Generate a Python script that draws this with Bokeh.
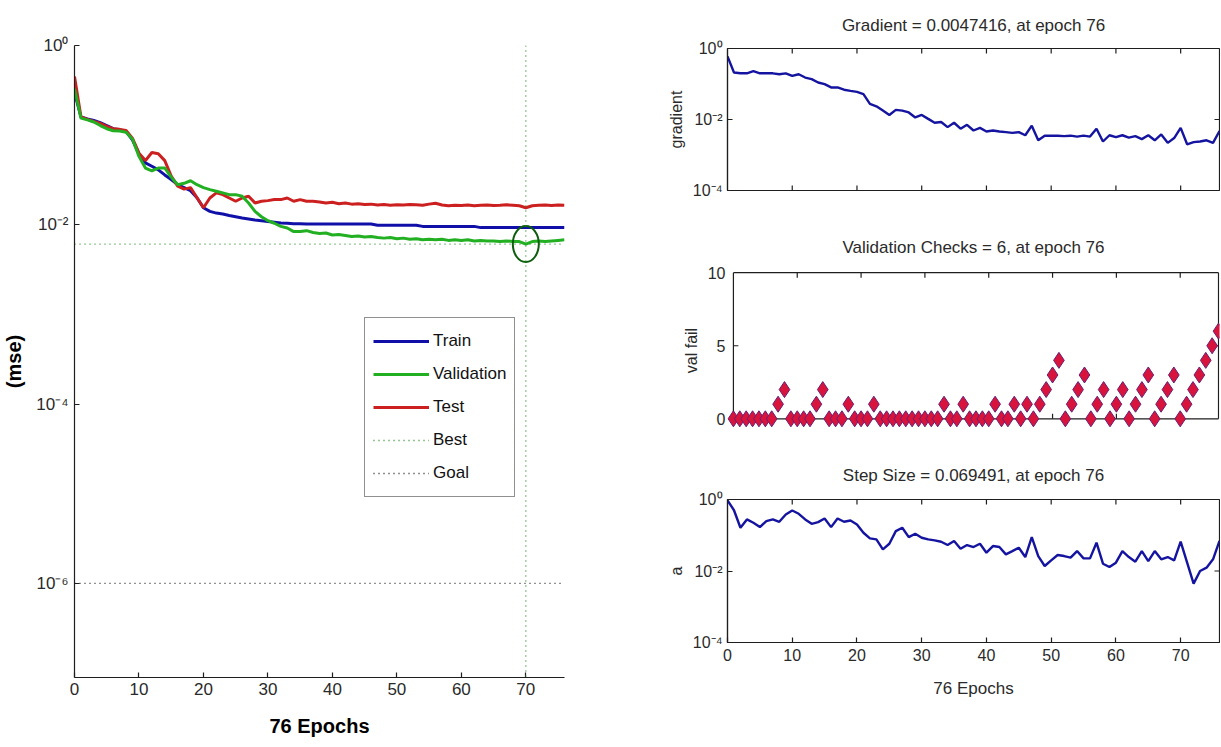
from bokeh.plotting import figure
from bokeh.models import Range1d, FixedTicker, CustomJSTickFormatter, Legend, LegendItem, Span, Title
from bokeh.layouts import row, column
from bokeh.embed import file_html
from bokeh.resources import INLINE

# ---------------- data ----------------
epochs = list(range(77))

train_perf = [0.30, 0.160, 0.152, 0.146, 0.138, 0.128, 0.118, 0.115, 0.110, 0.088,
              0.062, 0.049, 0.045, 0.041, 0.036, 0.032, 0.028, 0.026, 0.024, 0.020,
              0.0155, 0.0141, 0.0135, 0.0132, 0.0127, 0.0123, 0.0119, 0.0116, 0.0113, 0.0111,
              0.0109, 0.0107, 0.0105, 0.0104, 0.0103, 0.0103, 0.0102, 0.0102, 0.0102, 0.0102,
              0.0102, 0.0102, 0.0102, 0.0102, 0.0102, 0.0102, 0.0102, 0.0099, 0.0099, 0.0099,
              0.0099, 0.0099, 0.0099, 0.0099, 0.0096, 0.0096, 0.0096, 0.0096, 0.0096, 0.0096,
              0.0096, 0.0096, 0.0096, 0.0093, 0.0093, 0.0093, 0.0093, 0.0093, 0.0093, 0.0093,
              0.0093, 0.0093, 0.0093, 0.0093, 0.0093, 0.0093, 0.0093]
val_perf = [0.33, 0.155, 0.148, 0.140, 0.128, 0.118, 0.112, 0.111, 0.108, 0.090,
            0.058, 0.043, 0.040, 0.043, 0.043, 0.034, 0.028, 0.029, 0.031, 0.028,
            0.026, 0.0247, 0.0237, 0.0227, 0.0217, 0.0217, 0.0208, 0.0175, 0.0141, 0.0123,
            0.0111, 0.0104, 0.0096, 0.0092, 0.0084, 0.0084, 0.0086, 0.0082, 0.0080, 0.0081,
            0.0077, 0.0078, 0.0076, 0.0074, 0.0075, 0.0073, 0.0074, 0.0072, 0.0071, 0.0072,
            0.0070, 0.0071, 0.0069, 0.0070, 0.0068, 0.0069, 0.0068, 0.0069, 0.0067, 0.0068,
            0.0067, 0.0068, 0.0066, 0.0067, 0.0066, 0.0066, 0.0065, 0.0066, 0.0065, 0.0065,
            0.0061, 0.0065, 0.0066, 0.0065, 0.0066, 0.0067, 0.0068]
test_perf = [0.45, 0.160, 0.150, 0.142, 0.135, 0.125, 0.118, 0.116, 0.113, 0.092,
             0.063, 0.052, 0.064, 0.062, 0.052, 0.035, 0.027, 0.025, 0.026, 0.020,
             0.0155, 0.0199, 0.0227, 0.0217, 0.0199, 0.0183, 0.0199, 0.0208, 0.0175, 0.0183,
             0.0186, 0.0191, 0.0191, 0.0199, 0.0183, 0.0191, 0.0183, 0.0183, 0.0180, 0.0175,
             0.0178, 0.0172, 0.0175, 0.0170, 0.0172, 0.0168, 0.0170, 0.0166, 0.0168, 0.0165,
             0.0167, 0.0166, 0.0168, 0.0167, 0.0165, 0.0170, 0.0174, 0.0166, 0.0163, 0.0165,
             0.0164, 0.0166, 0.0163, 0.0165, 0.0166, 0.0164, 0.0165, 0.0167, 0.0165, 0.0163,
             0.0155, 0.0163, 0.0165, 0.0166, 0.0164, 0.0166, 0.0165]
best_epoch = 70
best_perf = 0.0061
goal_perf = 1e-6

gradient = [0.60, 0.21, 0.20, 0.20, 0.23, 0.20, 0.20, 0.20, 0.188, 0.20,
            0.169, 0.188, 0.152, 0.137, 0.110, 0.099, 0.080, 0.080, 0.069, 0.064,
            0.060, 0.052, 0.0275, 0.0236, 0.0178, 0.0134, 0.0187, 0.0178, 0.0158, 0.0114,
            0.0134, 0.0104, 0.0081, 0.0085, 0.0061, 0.0081, 0.0055, 0.0071, 0.0049, 0.0058,
            0.0046, 0.0049, 0.0046, 0.0044, 0.0042, 0.0044, 0.0036, 0.0067, 0.0026, 0.0035,
            0.0035, 0.0035, 0.0034, 0.0035, 0.0033, 0.0035, 0.0033, 0.0055, 0.0024, 0.0036,
            0.0032, 0.0036, 0.0031, 0.0034, 0.0028, 0.0036, 0.0026, 0.0038, 0.0022, 0.0030,
            0.0058, 0.0020, 0.0023, 0.0024, 0.0026, 0.0022, 0.0047416]
val_fail = [0, 0, 0, 0, 0, 0, 0, 1, 2, 0,
            0, 0, 0, 1, 2, 0, 0, 0, 1, 0,
            0, 0, 1, 0, 0, 0, 0, 0, 0, 0,
            0, 0, 0, 1, 0, 0, 1, 0, 0, 0,
            0, 1, 0, 0, 1, 0, 1, 0, 1, 2,
            3, 4, 0, 1, 2, 3, 0, 1, 2, 0,
            1, 2, 0, 1, 2, 3, 0, 1, 2, 3,
            0, 1, 2, 3, 4, 5, 6]
step_size = [0.95, 0.50, 0.162, 0.277, 0.223, 0.169, 0.249, 0.277, 0.238, 0.381,
             0.493, 0.398, 0.277, 0.209, 0.233, 0.295, 0.169, 0.295, 0.238, 0.259,
             0.201, 0.1175, 0.0816, 0.0766, 0.0403, 0.0579, 0.1306, 0.162, 0.0889, 0.110,
             0.0851, 0.0766, 0.0718, 0.0659, 0.0532, 0.0687, 0.0420, 0.0532, 0.0468, 0.0579,
             0.0325, 0.0499, 0.0468, 0.0292, 0.0361, 0.0448, 0.0246, 0.0889, 0.0262, 0.0138,
             0.0199, 0.0280, 0.0262, 0.0236, 0.0361, 0.0226, 0.0226, 0.0618, 0.0160, 0.0129,
             0.0171, 0.0361, 0.0246, 0.0182, 0.0361, 0.0190, 0.0361, 0.0212, 0.0246, 0.0199,
             0.0659, 0.0171, 0.00443, 0.0100, 0.0124, 0.0212, 0.069491]

x_ticks = [0, 10, 20, 30, 40, 50, 60, 70]
inner_x_ticks = [10, 20, 30, 40, 50, 60, 70]
perf_ticks = [1e-6, 1e-4, 1e-2, 1.0]
log_ticks = [1e-4, 1e-2, 1.0]
fail_ticks = [0, 5, 10]
legend_labels = ["Train", "Validation", "Test", "Best", "Goal"]
title_grad = "Gradient = 0.0047416, at epoch 76"
title_fail = "Validation Checks = 6, at epoch 76"
title_step = "Step Size = 0.069491, at epoch 76"
xlabel = "76 Epochs"

# ---------------- style ----------------
FONT = "Liberation Sans"
AX = "#1e1e1e"
TXT = "#2a2a2a"
C_TRAIN = "#1010a8"
C_VAL = "#22b022"
C_TEST = "#cc2020"
C_BEST = "#2d8f2d"
C_LINE = "#1414a0"
TICK = 5  # tick length, px

POW = CustomJSTickFormatter(code="""
const e = Math.round(Math.log10(tick));
const m = {"0":"\u2070","1":"\u00b9","2":"\u00b2","3":"\u00b3","4":"\u2074","5":"\u2075",
           "6":"\u2076","7":"\u2077","8":"\u2078","9":"\u2079","-":"\u207b"};
let s = "";
for (const c of String(e)) { s += m[c]; }
return "10" + s;
""")


def style_axis(ax, ticks, size, fmt=None, tick_in=TICK, standoff=5):
    ax.ticker = FixedTicker(ticks=ticks)
    ax.major_tick_in = tick_in
    ax.major_tick_out = 0
    ax.minor_tick_line_color = None
    ax.major_tick_line_color = AX
    ax.major_tick_line_width = 1.2
    ax.axis_line_color = AX
    ax.axis_line_width = 1.2
    if fmt is not None:
        ax.formatter = fmt
    ax.major_label_text_font = FONT
    ax.major_label_text_color = TXT
    ax.major_label_text_font_size = size
    ax.major_label_standoff = standoff
    ax.axis_label_text_font = FONT
    ax.axis_label_text_font_style = "normal"
    ax.axis_label_text_color = TXT


def base_fig(width, height, xr, yr, ytype, bl, br, bt, bb):
    p = figure(width=width, height=height, x_range=xr, y_range=yr, y_axis_type=ytype,
               output_backend="svg", toolbar_location=None, title=None,
               min_border_left=bl, min_border_right=br, min_border_top=bt, min_border_bottom=bb)
    p.xgrid.visible = False
    p.ygrid.visible = False
    p.background_fill_color = "white"
    p.border_fill_color = "white"
    return p


def add_title(p, text, standoff):
    p.add_layout(Title(text=text, align="center", text_font=FONT, text_font_size="17px",
                       text_font_style="normal", text_color=TXT, standoff=standoff), "above")


# ---------------- left: performance ----------------
L = base_fig(600, 745, Range1d(0, 76), Range1d(10 ** -7.05, 1.0), "log", 73, 36, 45, 68)
L.outline_line_color = None
style_axis(L.xaxis[0], x_ticks, "17px")
style_axis(L.yaxis[0], perf_ticks, "17px", fmt=POW, standoff=6)
L.xaxis.axis_label = xlabel
L.xaxis.axis_label_text_font_size = "20px"
L.xaxis.axis_label_text_font_style = "bold"
L.xaxis.axis_label_text_color = "black"
L.xaxis.axis_label_standoff = 17
L.yaxis.axis_label = "(mse)"
L.yaxis.axis_label_text_font_size = "20px"
L.yaxis.axis_label_text_font_style = "bold"
L.yaxis.axis_label_text_color = "black"
L.yaxis.axis_label_standoff = 8

L.add_layout(Span(location=best_epoch, dimension="height", line_color=C_BEST,
                  line_dash="1 4", line_width=1.3))
r_best = L.line(epochs, [best_perf] * len(epochs), line_color=C_BEST, line_dash="1 4", line_width=1.3)
r_goal = L.line(epochs, [goal_perf] * len(epochs), line_color="#222222", line_dash="1 4", line_width=1.3)
r_train = L.line(epochs, train_perf, line_color=C_TRAIN, line_width=3)
r_test = L.line(epochs, test_perf, line_color=C_TEST, line_width=3)
r_val = L.line(epochs, val_perf, line_color=C_VAL, line_width=3)
L.ellipse(x=[best_epoch], y=[best_perf], width=26, height=36, width_units="screen",
          height_units="screen", fill_color=None, line_color="#0c5e0c", line_width=2)

legend = Legend(items=[LegendItem(label=legend_labels[0], renderers=[r_train]),
                       LegendItem(label=legend_labels[1], renderers=[r_val]),
                       LegendItem(label=legend_labels[2], renderers=[r_test]),
                       LegendItem(label=legend_labels[3], renderers=[r_best]),
                       LegendItem(label=legend_labels[4], renderers=[r_goal])],
                location=(290, 180), orientation="vertical")
legend.margin = 0
legend.padding = 8
legend.spacing = 3
legend.glyph_width = 56
legend.glyph_height = 30
legend.label_height = 30
legend.label_standoff = 4
legend.label_text_font = FONT
legend.label_text_font_size = "17px"
legend.label_text_color = "#111111"
legend.border_line_color = "#222222"
legend.border_line_width = 1.2
legend.background_fill_color = "white"
legend.background_fill_alpha = 1
L.add_layout(legend, "center")

# ---------------- right column geometry ----------------
X0_PX, X76_PX = 727, 1219          # page x of epoch 0 and epoch 76
PX_EP = (X76_PX - X0_PX) / 76.0    # px per epoch
RIGHT_W = 620


def log_panel(height, bt, bb, values, title, ylabel, show_x, title_standoff):
    frame_h = height - bt - bb
    dec = frame_h / 4.0                       # px per decade
    p = base_fig(RIGHT_W, height, Range1d(0, 76), Range1d(1e-4, 1.0), "log",
                 X0_PX - 600, 600 + RIGHT_W - X76_PX, bt, bb)
    p.outline_line_color = AX
    p.outline_line_width = 1.2
    style_axis(p.yaxis[0], log_ticks, "16px", fmt=POW, standoff=5)
    p.yaxis.axis_label = ylabel
    p.yaxis.axis_label_text_font_size = "16px"
    p.yaxis.axis_label_standoff = 5
    t = 10 ** (-TICK / dec)
    # inward ticks on top (and bottom when no axis there) and on the right side
    p.segment(x0=inner_x_ticks, x1=inner_x_ticks, y0=[1.0] * 7, y1=[t] * 7, line_color=AX, line_width=1.2)
    p.segment(x0=[76], x1=[76 - TICK / PX_EP], y0=[1e-2], y1=[1e-2], line_color=AX, line_width=1.2)
    if show_x:
        style_axis(p.xaxis[0], x_ticks, "16px", standoff=6)
    else:
        p.xaxis.visible = False
        p.segment(x0=inner_x_ticks, x1=inner_x_ticks, y0=[1e-4] * 7, y1=[1e-4 / t] * 7,
                  line_color=AX, line_width=1.2)
    add_title(p, title, title_standoff)
    p.line(epochs, values, line_color=C_LINE, line_width=2.4)
    return p


# gradient: frame 46..190 ; val fail: frame 270..430 ; step: frame 497..642
G = log_panel(222, 46, 32, gradient, title_grad, "gradient", False, 27)
S = log_panel(296, 48, 103, step_size, title_step, "a", True, 29)
S.xaxis.axis_label = xlabel
S.xaxis.axis_label_text_font_size = "17px"
S.xaxis.axis_label_standoff = 15

# ---------------- right: validation checks ----------------
V_LEFT = 721
V_H, V_BT, V_BB = 227, 48, 19
V = base_fig(RIGHT_W, V_H, Range1d(-(X0_PX - V_LEFT) / PX_EP, 76 + (600 + RIGHT_W - X76_PX) / PX_EP),
             Range1d(-0.8, 10.15), "linear", V_LEFT - 600, 0, V_BT, V_BB)
V.outline_line_color = None
V.xaxis.visible = False
style_axis(V.yaxis[0], fail_ticks, "16px", tick_in=0, standoff=2)
V.yaxis.axis_line_color = None
V.yaxis.major_tick_line_color = None
V.yaxis.axis_label = "val fail"
V.yaxis.axis_label_text_font_size = "16px"
V.yaxis.axis_label_standoff = 5
v_unit = (V_H - V_BT - V_BB) / 10.95       # px per val-fail unit
# box of the axes (0..76 x 0..10)
V.segment(x0=[0, 0, 0, 76], x1=[76, 76, 0, 76], y0=[0, 10, 0, 0], y1=[0, 10, 10, 10],
          line_color=AX, line_width=1.2)
# inward ticks
V.segment(x0=inner_x_ticks, x1=inner_x_ticks, y0=[0] * 7, y1=[TICK / v_unit] * 7, line_color=AX, line_width=1.2)
V.segment(x0=inner_x_ticks, x1=inner_x_ticks, y0=[10] * 7, y1=[10 - TICK / v_unit] * 7, line_color=AX, line_width=1.2)
V.segment(x0=[0, 76], x1=[TICK / PX_EP, 76 - TICK / PX_EP], y0=[5, 5], y1=[5, 5], line_color=AX, line_width=1.2)
add_title(V, title_fail, 27)
V.scatter(epochs, val_fail, marker="diamond", size=16, fill_color="#d8143c",
          line_color="#6a1e74", line_width=1)

layout = row(L, column(G, V, S))
open("out.html", "w", encoding="utf-8").write(file_html(layout, INLINE))
